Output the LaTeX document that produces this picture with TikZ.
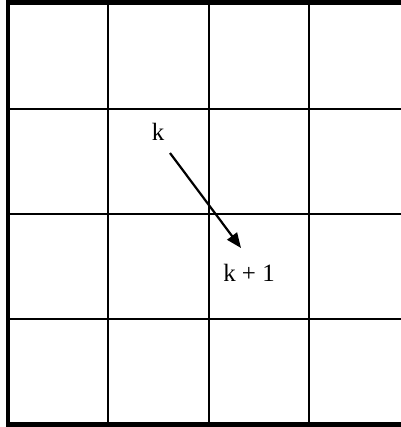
\documentclass[tikz,border=0pt]{standalone}
\usepackage{fontspec}
\setmainfont{Liberation Serif}
\usetikzlibrary{arrows.meta}

\begin{document}
\begin{tikzpicture}[x=1bp, y=-1bp,
    arr/.style={-{Triangle[length=15bp, width=12bp]}, line width=2.2bp},
    cell/.style={line width=2.3bp},
    lbl/.style={font=\fontsize{25}{30}\selectfont, inner sep=0pt}]
  \useasboundingbox (0,0) rectangle (401,427);
  \clip (0,0) rectangle (401,427);

  % Grid lines
  \foreach \x in {108,209,309}
    \draw[cell] (\x,2.5) -- (\x,424.7);
  \foreach \y in {109,214,319}
    \draw[cell] (8,\y) -- (409,\y);

  % Outer border (thick)
  \draw[line width=4.6bp] (8,2.5) rectangle (409,424.7);

  % Labels
  \node[lbl] (k)  at (158,132) {k};
  \node[lbl] (k1) at (249,273) {k + 1};

  % Step arrow
  \coordinate (kout) at (170,153);
  \coordinate (k1in) at (241,248);
  \draw[arr] (kout) -- (k1in);
\end{tikzpicture}
\end{document}
